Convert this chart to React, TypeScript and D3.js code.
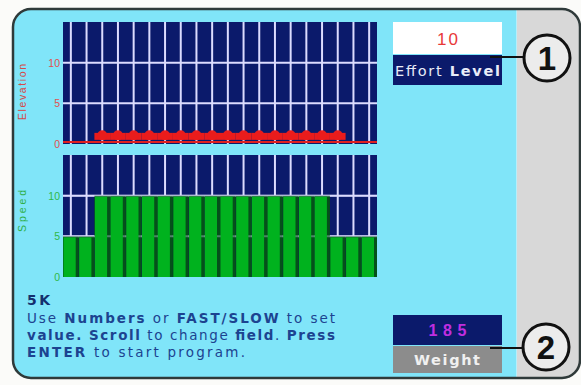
import * as d3 from "d3";

// workout segments (one column each)
const segments = ["1", "2", "3", "4", "5", "6", "7", "8", "9", "10", "11", "12", "13", "14", "15", "16", "17", "18", "19", "20"];
const elevation = [0, 0, 1, 1, 1, 1, 1, 1, 1, 1, 1, 1, 1, 1, 1, 1, 1, 1, 0, 0];
const speed = [5, 5, 10, 10, 10, 10, 10, 10, 10, 10, 10, 10, 10, 10, 10, 10, 10, 5, 5, 5];
const yTicks = [0, 5, 10];
const gridTicks = [5, 10];

const effortLevel = "10";
const weight = "185";
const programName = "5 K";

const FONT = "'Liberation Sans', Arial, sans-serif";
const WIDE = "'DejaVu Sans', Verdana, sans-serif";
const NAVY = "#0b1a6b";
const CYAN = "#80e5f9";
const GRID = "#dcdcff";

const W = 581;
const H = 385;

export default function App() {
  const x = d3.scaleBand<string>().domain(segments).range([63, 377]).padding(0);
  const bw = x.bandwidth();
  const yTop = d3.scaleLinear().domain([0, 15]).range([144, 22]);
  const yBot = d3.scaleLinear().domain([0, 15]).range([277, 155]);

  const grid = (y: d3.ScaleLinear<number, number>) => (
    <g>
      {segments.map(s => (
        <line key={"v" + s} x1={(x(s) as number) + bw / 2} x2={(x(s) as number) + bw / 2}
          y1={y.range()[1]} y2={y.range()[0]} stroke={GRID} strokeWidth={2} />
      ))}
    </g>
  );
  const hgrid = (y: d3.ScaleLinear<number, number>, op = 1) => (
    <g opacity={op}>
      {gridTicks.map(t => (
        <line key={"h" + t} x1={63} x2={377} y1={y(t)} y2={y(t)} stroke={GRID} strokeWidth={2} />
      ))}
    </g>
  );
  const ticks = (y: d3.ScaleLinear<number, number>, color: string) => (
    <g>
      {yTicks.map(t => (
        <text key={t} x={60} y={y(t) + 4} textAnchor="end" fontSize={10.5} fill={color} fontFamily={FONT}>{t}</text>
      ))}
    </g>
  );

  return (
    <svg width={W} height={H} style={{ position: "absolute", left: 0, top: 0, display: "block", background: "#fbfbf9" }}>
      <defs>
        <clipPath id="frame">
          <rect x={13} y={9} width={567} height={369} rx={18} />
        </clipPath>
      </defs>
      <g clipPath="url(#frame)">
        <rect x={13} y={9} width={567} height={369} fill="#d8d8d8" />
        <rect x={13} y={9} width={503} height={369} fill={CYAN} />
        <line x1={516.5} x2={516.5} y1={9} y2={378} stroke="#b8eef9" strokeWidth={1} />
      </g>
      <rect x={13} y={9} width={567} height={369} rx={18} fill="none" stroke="#2f3a3a" strokeWidth={2.5} />

      {/* elevation chart */}
      <rect x={63} y={22} width={314} height={122} fill={NAVY} />
      {grid(yTop)}
      {hgrid(yTop)}
      <line x1={63} x2={377} y1={yTop(0) - 2} y2={yTop(0) - 2} stroke="#e02020" strokeWidth={2} />
      {segments.map((s, i) => elevation[i] > 0 && (
        <g key={s} fill="#ea1c1c">
          <rect x={x(s) as number} y={yTop(elevation[i]) - 3} width={bw} height={7} />
          <circle cx={(x(s) as number) + bw / 2} cy={yTop(elevation[i]) - 0.5} r={5} />
        </g>
      ))}
      {ticks(yTop, "#e25050")}
      <text transform={`translate(26,${(yTop(0) + yTop(15)) / 2 + 9}) rotate(-90)`} textAnchor="middle"
        fontSize={10.5} fill="#d84848" fontFamily={FONT} textLength={56} lengthAdjust="spacing">Elevation</text>

      {/* speed chart */}
      <rect x={63} y={155} width={314} height={122} fill={NAVY} />
      {grid(yBot)}
      {hgrid(yBot)}
      {segments.map((s, i) => (
        <rect key={"d" + s} x={x(s) as number} y={yBot(speed[i])} width={bw} height={yBot(0) - yBot(speed[i])} fill="#05501a" />
      ))}
      {hgrid(yBot, 0.35)}
      {segments.map((s, i) => (
        <rect key={"g" + s} x={(x(s) as number) + 0.5} y={yBot(speed[i]) + 1} width={bw - 3.5}
          height={yBot(0) - yBot(speed[i]) - 1} fill="#00b21e" />
      ))}
      {ticks(yBot, "#2fb84a")}
      <text transform={`translate(26,${(yBot(0) + yBot(15)) / 2 - 5}) rotate(-90)`} textAnchor="middle"
        fontSize={10.5} fill="#2fb04a" fontFamily={FONT} textLength={42} lengthAdjust="spacing">Speed</text>

      {/* message */}
      <g fill="#1c4390" fontFamily={WIDE} fontSize={13.5}>
        <text x={27} y={305} fontWeight="bold" fontSize={14} fill="#14306e" textLength={23} lengthAdjust="spacing">{programName}</text>
        <text x={27} y={323} textLength={308} lengthAdjust="spacing">
          Use <tspan fontWeight="bold">Numbers</tspan> or <tspan fontWeight="bold">FAST/SLOW</tspan> to set
        </text>
        <text x={27} y={340} textLength={308} lengthAdjust="spacing">
          <tspan fontWeight="bold">value.</tspan>  <tspan fontWeight="bold">Scroll</tspan> to change <tspan fontWeight="bold">field</tspan>.  <tspan fontWeight="bold">Press</tspan>
        </text>
        <text x={27} y={357} textLength={218} lengthAdjust="spacing">
          <tspan fontWeight="bold">ENTER</tspan> to start program.
        </text>
      </g>

      {/* effort level field */}
      <rect x={393} y={22} width={109} height={32} fill="#ffffff" />
      <text x={447.5} y={45} textAnchor="middle" fontSize={17} fill="#e83838" fontFamily={FONT}
        textLength={21} lengthAdjust="spacing">{effortLevel}</text>
      <rect x={393} y={55} width={109} height={30} fill={NAVY} />
      <text x={395} y={76} fontSize={14.5} fill="#e8ecf8" fontFamily={WIDE} textLength={105} lengthAdjust="spacing">
        Effort <tspan fontWeight="bold">Level</tspan>
      </text>

      {/* weight field */}
      <rect x={393} y={315} width={109} height={30} fill={NAVY} />
      <text x={447.5} y={336} textAnchor="middle" fontSize={16} fill="#c02ee0" fontFamily={FONT} fontWeight="bold"
        textLength={38} lengthAdjust="spacing">{weight}</text>
      <rect x={393} y={346} width={109} height={27} fill="#8c8c8c" />
      <text x={447} y={365} textAnchor="middle" fontSize={14.5} fill="#f0f0f0" fontFamily={WIDE} fontWeight="bold"
        textLength={66} lengthAdjust="spacing">Weight</text>

      {/* callouts */}
      <line x1={490} x2={525} y1={57} y2={57} stroke="#111" strokeWidth={2} />
      <circle cx={547} cy={58} r={23} fill="#ececec" stroke="#111" strokeWidth={3} />
      <text x={547} y={70} textAnchor="middle" fontSize={33} fontWeight="bold" fill="#111" fontFamily={FONT}>1</text>
      <line x1={490} x2={524} y1={348} y2={348} stroke="#111" strokeWidth={2} />
      <circle cx={546} cy={347} r={23} fill="#ececec" stroke="#111" strokeWidth={3} />
      <text x={546} y={359} textAnchor="middle" fontSize={33} fontWeight="bold" fill="#111" fontFamily={FONT}>2</text>
    </svg>
  );
}
